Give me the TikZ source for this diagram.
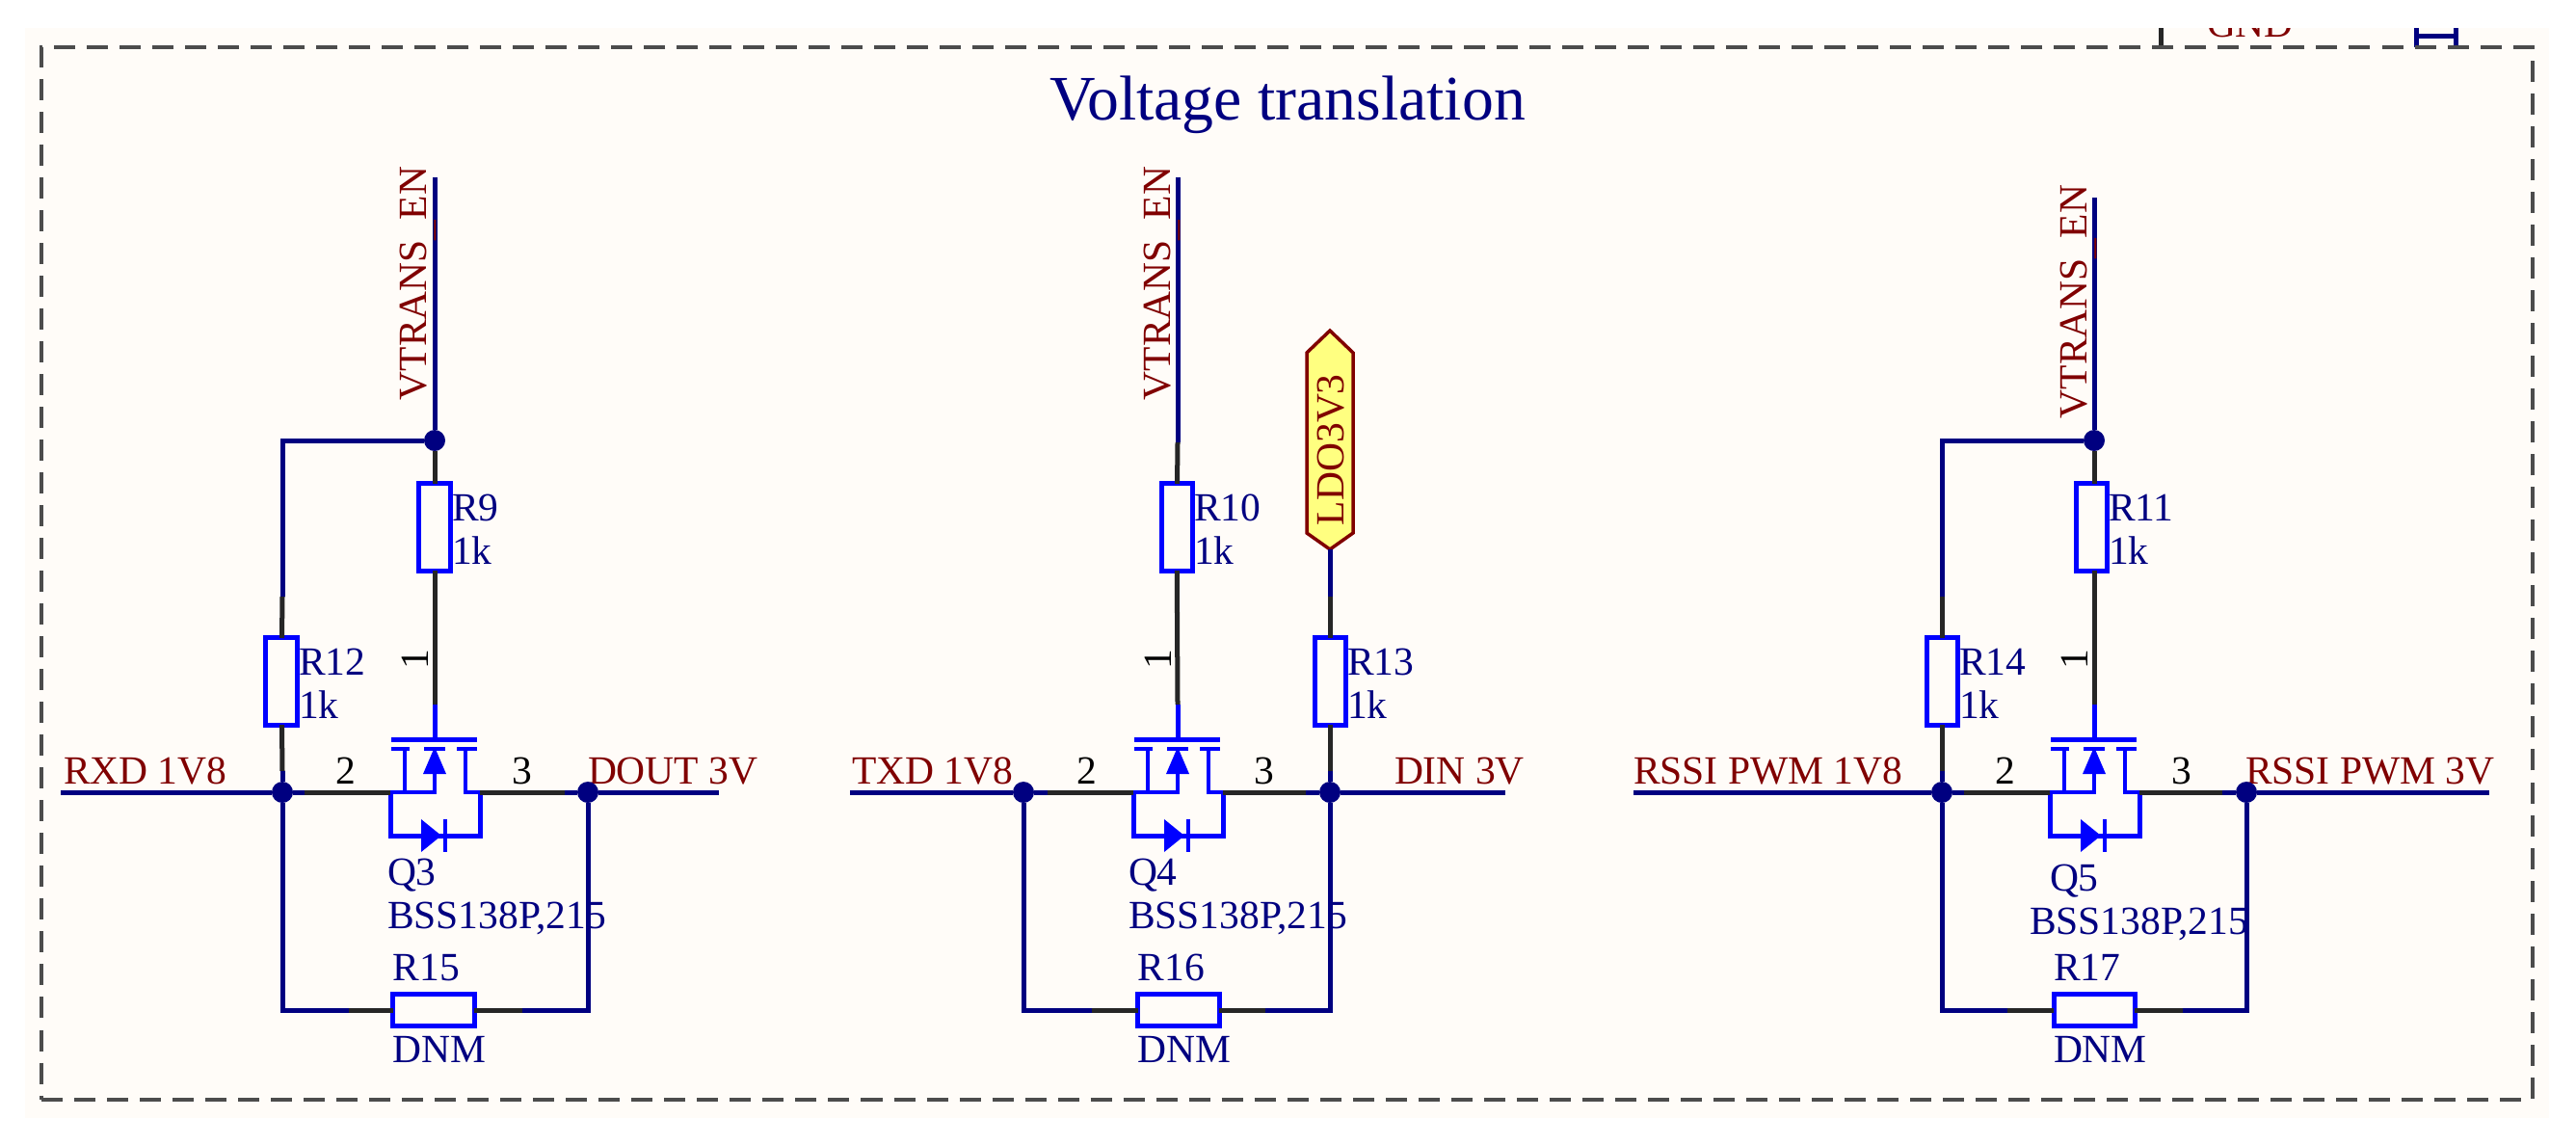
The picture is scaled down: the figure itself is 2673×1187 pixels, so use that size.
\documentclass[tikz,border=0pt]{standalone}
\usepackage{fontspec}
\setmainfont{Liberation Serif}
\usetikzlibrary{positioning}
\definecolor{netnavy}{HTML}{000080}
\definecolor{partblue}{HTML}{0000FF}
\definecolor{portred}{HTML}{800000}
\definecolor{sheet}{HTML}{FFFCF8}
\definecolor{flagyellow}{HTML}{FFFF80}
\newcommand{\sunkbar}{\raisebox{-0.05cm}{\_}}
\newcommand{\flatbar}{\makebox[0.25em][c]{\sunkbar}}
\tikzset{
	nmos/.pic = {
		\coordinate (-stem) at (0,-91);
		\coordinate (-src) at (-46,0);
		\coordinate (-drn) at (47,0);
		\draw [partblue, line width = 0.05cm] (-stem) -- (0,-55);
		\draw [partblue, line width = 0.05cm] (-45,-55) -- (44,-55);
		\draw [partblue, line width = 0.04cm] (-45,-45) -- (-26,-45);
		\draw [partblue, line width = 0.04cm] (-11,-45) -- (11,-45);
		\draw [partblue, line width = 0.04cm] (23,-45) -- (44,-45);
		\draw [partblue, line width = 0.04cm] (-31,-45) -- (-31,0);
		\draw [partblue, line width = 0.04cm] (0,-45) -- (0,0) -- (-src);
		\draw [partblue, line width = 0.04cm] (32,-45) -- (32,0) -- (-drn);
		\draw [partblue, line width = 0.05cm] (-src) -- (-46,45) -- (47,45) -- (-drn);
		\fill [partblue] (0,-47) -- (-12,-19) -- (12,-19) -- cycle;
		\fill [partblue] (-14,28) -- (-14,62) -- (7,45) -- cycle;
		\draw [partblue, line width = 0.04cm] (11,28) -- (11,62);
	}
}

\begin{document}
\begin{tikzpicture}[
x = 0.01cm,
y = -0.01cm,
every node/.style = {
	font = \fontsize{11.8}{14}\selectfont,
	inner sep = 0pt,
	outer sep = 0pt
},
part name/.style = {
	netnavy,
	anchor = base west
},
port name/.style = {
	portred,
	anchor = base west
},
vert port name/.style = {
	portred,
	rotate = 90,
	anchor = base west
},
pin number/.style = {
	black,
	anchor = base
},
vert pin number/.style = {
	black,
	rotate = 90,
	anchor = base
},
net wire/.style = {
	netnavy,
	line width = 0.05cm
},
lead wire/.style = {
	black!85,
	line width = 0.05cm
},
tee/.style = {
	circle,
	fill = netnavy,
	minimum size = 0.22cm
},
vert res/.style = {
	draw = partblue,
	line width = 0.05cm,
	minimum width = 0.32cm,
	minimum height = 0.9cm
},
horiz res/.style = {
	draw = partblue,
	line width = 0.05cm,
	minimum width = 0.84cm,
	minimum height = 0.33cm
}
]
\useasboundingbox (0,0) rectangle (2673,1187);
\fill [sheet] (26,29) rectangle (2645,1160);

\begin{scope}
\clip (26,29) rectangle (2645,1160);
\coordinate (topwire) at (2242,20);
\coordinate (bracketa) at (2507,20);
\coordinate (bracketb) at (2548,20);
\draw [lead wire] (topwire) -- (2242,49);
\draw [net wire] (bracketa) -- (2507,49);
\draw [net wire] (bracketb) -- (2548,49);
\draw [net wire] (2507,37) -- (2548,37);
\node [port name] (gnd) at (2290,38) {GND};
\end{scope}

\node [draw = black!70, line width = 0.04cm, dash pattern = on 0.22cm off 0.12cm, minimum width = 25.83cm, minimum height = 10.91cm, anchor = north west] (frame) at (43,49) {};
\node [netnavy, font = \fontsize{18.7}{22}\selectfont, anchor = base] (title) at (1336,124) {Voltage translation};

\node [port name] (rxd) at (66,813) {RXD\flatbar 1V8};
\node [port name] (dout) at (610,813) {DOUT\flatbar 3V};
\node [pin number] (q3two) at (359,813) {2};
\node [pin number] (q3three) at (542,813) {3};
\node [vert pin number] (q3one) at (444,684) {1};
\node [part name] (q3name) at (402,918) {Q3};
\node [part name, below = 0.45cm of q3name.base west, anchor = base west] (q3part) {BSS138P,215};
\pic (q3) at (451,822) {nmos};
\coordinate (en1) at (451,184);
\node [tee] (top1) at (451,457) {};
\node [vert res] (r9) at (451,547) {};
\node [part name] (r9name) at ([shift={(2,39)}]r9.north east) {R9};
\node [part name] (r9val) at ([shift={(2,84)}]r9.north east) {1k};
\node [vert res] (r12) at (292,707) {};
\node [part name] (r12name) at ([shift={(2,39)}]r12.north east) {R12};
\node [part name] (r12val) at ([shift={(2,84)}]r12.north east) {1k};
\node [horiz res] (r15) at (450,1048) {};
\node [part name] (r15name) at ([shift={(0,-14)}]r15.north west) {R15};
\node [part name] (r15val) at ([shift={(0,38)}]r15.south west) {DNM};
\node [tee] (in1) at (293,822) {};
\node [tee] (out1) at (610,822) {};
\coordinate (rxdend) at (63,822);
\coordinate (doutend) at (746,822);
\coordinate (r12tap) at (293,619);
\coordinate (r12foot) at (293,800);
\coordinate (q3inlead) at (316,822);
\coordinate (q3outlead) at (586,822);
\coordinate (r15lead) at (362,1048);
\coordinate (r15tail) at (542,1048);
\draw [net wire] (en1) -- (top1);
\draw [lead wire] (top1) -- (r9);
\draw [lead wire] (r9) -- (q3-stem);
\draw [net wire] (top1) -| (r12tap);
\draw [lead wire] (r12tap) -- (r12);
\draw [lead wire] (r12) -- (r12foot);
\draw [net wire] (r12foot) -- (in1);
\draw [net wire] (rxdend) -- (in1);
\draw [net wire] (in1) -- (q3inlead);
\draw [lead wire] (q3inlead) -- (q3-src);
\draw [lead wire] (q3-drn) -- (q3outlead);
\draw [net wire] (q3outlead) -- (out1);
\draw [net wire] (out1) -- (doutend);
\draw [net wire] (in1) |- (r15lead);
\draw [lead wire] (r15lead) -- (r15);
\draw [lead wire] (r15) -- (r15tail);
\draw [net wire] (r15tail) -| (out1);
\node [vert port name] (en1name) at (442,415) {VTRANS\sunkbar EN};

\node [port name] (txd) at (884,813) {TXD\flatbar 1V8};
\node [port name] (din) at (1447,813) {DIN\flatbar 3V};
\node [pin number] (q4two) at (1128,813) {2};
\node [pin number] (q4three) at (1312,813) {3};
\node [vert pin number] (q4one) at (1215,684) {1};
\node [part name] (q4name) at (1171,918) {Q4};
\node [part name, below = 0.45cm of q4name.base west, anchor = base west] (q4part) {BSS138P,215};
\pic (q4) at (1222,822) {nmos};
\coordinate (en2) at (1222,184);
\coordinate (en2lead) at (1222,459);
\node [vert res] (r10) at (1221,547) {};
\node [part name] (r10name) at ([shift={(2,39)}]r10.north east) {R10};
\node [part name] (r10val) at ([shift={(2,84)}]r10.north east) {1k};
\filldraw [draw = portred, fill = flagyellow, line width = 0.035cm] (1380,343) -- (1404,366) -- (1404,553) -- (1380,570) -- (1356,553) -- (1356,366) -- cycle;
\node [vert port name] (ldo) at (1394,545) {LDO3V3};
\coordinate (ldofoot) at (1380,570);
\node [vert res] (r13) at (1380,707) {};
\node [part name] (r13name) at ([shift={(2,39)}]r13.north east) {R13};
\node [part name] (r13val) at ([shift={(2,84)}]r13.north east) {1k};
\node [horiz res] (r16) at (1223,1048) {};
\node [part name] (r16name) at ([shift={(0,-14)}]r16.north west) {R16};
\node [part name] (r16val) at ([shift={(0,38)}]r16.south west) {DNM};
\node [tee] (in2) at (1062,822) {};
\node [tee] (out2) at (1380,822) {};
\coordinate (txdend) at (882,822);
\coordinate (dinend) at (1562,822);
\coordinate (r13tap) at (1380,619);
\coordinate (r13foot) at (1380,800);
\coordinate (q4inlead) at (1087,822);
\coordinate (q4outlead) at (1355,822);
\coordinate (r16lead) at (1133,1048);
\coordinate (r16tail) at (1313,1048);
\draw [net wire] (en2) -- (en2lead);
\draw [lead wire] (en2lead) -- (r10);
\draw [lead wire] (r10) -- (q4-stem);
\draw [net wire] (ldofoot) -- (r13tap);
\draw [lead wire] (r13tap) -- (r13);
\draw [lead wire] (r13) -- (r13foot);
\draw [net wire] (r13foot) -- (out2);
\draw [net wire] (txdend) -- (in2);
\draw [net wire] (in2) -- (q4inlead);
\draw [lead wire] (q4inlead) -- (q4-src);
\draw [lead wire] (q4-drn) -- (q4outlead);
\draw [net wire] (q4outlead) -- (out2);
\draw [net wire] (out2) -- (dinend);
\draw [net wire] (in2) |- (r16lead);
\draw [lead wire] (r16lead) -- (r16);
\draw [lead wire] (r16) -- (r16tail);
\draw [net wire] (r16tail) -| (out2);
\node [vert port name] (en2name) at (1214,415) {VTRANS\sunkbar EN};

\node [port name] (rssiin) at (1695,813) {RSSI\flatbar PWM\flatbar 1V8};
\node [port name] (rssiout) at (2330,813) {RSSI\flatbar PWM\flatbar 3V};
\node [pin number] (q5two) at (2081,813) {2};
\node [pin number] (q5three) at (2264,813) {3};
\node [vert pin number] (q5one) at (2166,684) {1};
\node [part name] (q5name) at (2127,924) {Q5};
\node [part name] (q5part) at (2106,969) {BSS138P,215};
\pic (q5) at (2173,822) {nmos};
\coordinate (en3) at (2173,205);
\node [tee] (top3) at (2173,457) {};
\node [vert res] (r11) at (2170,547) {};
\node [part name] (r11name) at ([shift={(2,39)}]r11.north east) {R11};
\node [part name] (r11val) at ([shift={(2,84)}]r11.north east) {1k};
\node [vert res] (r14) at (2015,707) {};
\node [part name] (r14name) at ([shift={(2,39)}]r14.north east) {R14};
\node [part name] (r14val) at ([shift={(2,84)}]r14.north east) {1k};
\node [horiz res] (r17) at (2173,1048) {};
\node [part name] (r17name) at ([shift={(0,-14)}]r17.north west) {R17};
\node [part name] (r17val) at ([shift={(0,38)}]r17.south west) {DNM};
\node [tee] (in3) at (2015,822) {};
\node [tee] (out3) at (2331,822) {};
\coordinate (rssiinend) at (1695,822);
\coordinate (rssioutend) at (2583,822);
\coordinate (r14tap) at (2015,619);
\coordinate (r14foot) at (2015,800);
\coordinate (q5inlead) at (2038,822);
\coordinate (q5outlead) at (2306,822);
\coordinate (r17lead) at (2083,1048);
\coordinate (r17tail) at (2265,1048);
\draw [net wire] (en3) -- (top3);
\draw [lead wire] (top3) -- (top3 |- r11.north);
\draw [lead wire] (top3 |- r11.south) -- (q5-stem);
\draw [net wire] (top3) -| (r14tap);
\draw [lead wire] (r14tap) -- (r14);
\draw [lead wire] (r14) -- (r14foot);
\draw [net wire] (r14foot) -- (in3);
\draw [net wire] (rssiinend) -- (in3);
\draw [net wire] (in3) -- (q5inlead);
\draw [lead wire] (q5inlead) -- (q5-src);
\draw [lead wire] (q5-drn) -- (q5outlead);
\draw [net wire] (q5outlead) -- (out3);
\draw [net wire] (out3) -- (rssioutend);
\draw [net wire] (in3) |- (r17lead);
\draw [lead wire] (r17lead) -- (r17);
\draw [lead wire] (r17) -- (r17tail);
\draw [net wire] (r17tail) -| (out3);
\node [vert port name] (en3name) at (2165,434) {VTRANS\sunkbar EN};

\end{tikzpicture}
\end{document}
